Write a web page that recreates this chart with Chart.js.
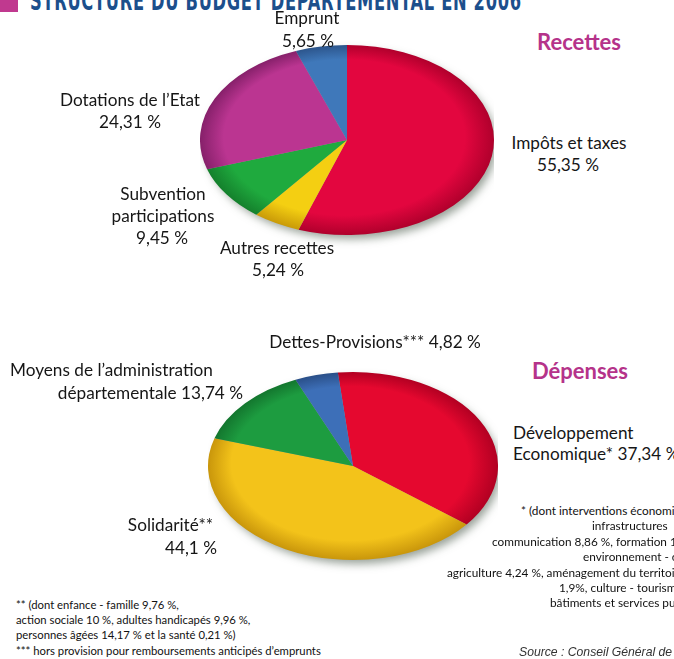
<!DOCTYPE html>
<html>
<head>
<meta charset="utf-8">
<script src="https://cdn.jsdelivr.net/npm/chart.js@4.4.1/dist/chart.umd.min.js"></script>
<style>
  body { margin: 0; width: 674px; height: 659px; overflow: hidden; background: #fff; position: relative;
         font-family: Lato, 'Open Sans', sans-serif; color: #161616; }
  .t { position: absolute; white-space: nowrap; font-size: 17.2px; line-height: 20px; }
  .head { position: absolute; white-space: nowrap; font-size: 22px; line-height: 26px; font-weight: bold; color: #b5338a; }
  .note { position: absolute; white-space: nowrap; font-size: 11.3px; line-height: 14px; color: #111; }
  .note.r { font-size: 11.8px; }
  #title { position: absolute; left: 30px; top: -13px; white-space: nowrap; font-family: 'DejaVu Sans Condensed', 'DejaVu Sans', sans-serif;
           font-weight: bold; font-size: 27px; line-height: 28px; color: #1c4f8c; letter-spacing: 1px; transform-origin: 0 0; }
  #square { position: absolute; left: 0; top: -6px; width: 18px; height: 18px; background: #c0398f; }
  #source { position: absolute; left: 519px; top: 644px; font-family: 'Liberation Sans', Arial, sans-serif; font-style: italic;
            font-size: 12.2px; line-height: 16px; color: #333; white-space: nowrap; }
  canvas { position: absolute; }
</style>
</head>
<body>
<div id="square"></div>
<div id="title">STRUCTURE DU BUDGET DÉPARTEMENTAL EN 2006</div>

<canvas id="recettes" width="294" height="294" style="left:200px; top:-7px;"></canvas>
<canvas id="depenses" width="290" height="290" style="left:208px; top:321px;"></canvas>

<div class="head" style="left:579px; top:29px; transform:translateX(-50%);">Recettes</div>
<div class="head" style="left:580px; top:358px; transform:translateX(-50%);">Dépenses</div>

<div id="labels"></div>
<div id="notes"></div>
<div id="source">Source : Conseil Général de la Mayenne</div>

<script>
// données
const recettesLabels = ['Impôts et taxes', 'Autres recettes', 'Subvention\nparticipations', 'Dotations de l’Etat', 'Emprunt'];
const recettesValues = [55.35, 5.24, 9.45, 24.31, 5.65];

const depensesLabels = ['Développement\nEconomique*', 'Solidarité**', 'Moyens de l’administration\ndépartementale ', 'Dettes-Provisions***'];
const depensesValues = [37.34, 44.1, 13.74, 4.82];

const notesDroite = [
  '* (dont interventions économiques',
  'infrastructures',
  'communication 8,86 %, formation 1',
  'environnement - c',
  'agriculture 4,24 %, aménagement du territoire',
  '1,9%, culture - tourisme',
  'bâtiments et services publics'
];
const notesGauche = [
  '** (dont enfance - famille 9,76 %,',
  'action sociale 10 %, adultes handicapés 9,96 %,',
  'personnes âgées 14,17 % et la santé 0,21 %)',
  '*** hors provision pour remboursements anticipés d’emprunts'
];

// couleurs [base, bord sombre]
const recettesColors = [['#e3063f', '#b0002c'], ['#f4cf12', '#c99a08'], ['#1faa3e', '#14802c'], ['#bb3591', '#86206a'], ['#3f78ba', '#2c558c']];
const depensesColors = [['#e5082f', '#b20022'], ['#f3c31a', '#c9960b'], ['#1d9c40', '#13762e'], ['#3d6fb8', '#2a4f88']];

// position des lignes de texte : [x, y (centre), alignement]
const recettesPos = [
  [[569, 143, 'c'], [568, 165, 'c']],
  [[277, 248, 'c'], [278, 270, 'c']],
  [[163, 194, 'c'], [163, 216, 'c'], [162, 238, 'c']],
  [[130, 100, 'c'], [130, 122, 'c']],
  [[307, 18, 'c'], [308, 41, 'c']]
];
const depensesPos = [
  [[513, 433, 'l'], [513, 454, 'l']],
  [[213, 525, 'r'], [217, 548, 'r']],
  [[10, 370, 'l'], [243, 393, 'r']],
  [[375, 342, 'c']]
];

function pct(v) {
  return String(v).replace('.', ',') + ' %';
}

function putText(parent, cls, text, x, y, align) {
  const d = document.createElement('div');
  d.className = cls;
  d.textContent = text;
  d.style.left = x + 'px';
  d.style.top = (y - 10) + 'px';
  if (align === 'c') d.style.transform = 'translateX(-50%)';
  if (align === 'r') d.style.transform = 'translateX(-100%)';
  parent.appendChild(d);
}

function addLabels(labels, values, positions) {
  const box = document.getElementById('labels');
  labels.forEach((lab, i) => {
    const lines = lab.split('\n');
    const pos = positions[i];
    if (pos.length > lines.length) {
      lines.push(pct(values[i]));
    } else {
      lines[lines.length - 1] += ' ' + pct(values[i]);
    }
    lines.forEach((l, j) => putText(box, 't', l, pos[j][0], pos[j][1], pos[j][2]));
  });
}

addLabels(recettesLabels, recettesValues, recettesPos);
addLabels(depensesLabels, depensesValues, depensesPos);

const notes = document.getElementById('notes');
const xDroite = [521, 592, 492, 583, 447, 559, 550];
notesDroite.forEach((l, i) => {
  const d = document.createElement('div');
  d.className = 'note r';
  d.textContent = l;
  d.style.left = xDroite[i] + 'px';
  d.style.top = (504 + i * 15.4) + 'px';
  notes.appendChild(d);
});
notesGauche.forEach((l, i) => {
  const d = document.createElement('div');
  d.className = 'note';
  d.textContent = l;
  d.style.left = '16px';
  d.style.top = (598 + i * 15.2) + 'px';
  notes.appendChild(d);
});

// titre coupé en haut : on l'étire à la largeur voulue
const title = document.getElementById('title');
title.style.transform = 'scaleX(' + (492 / title.offsetWidth) + ')';

// aplatit le camembert en ellipse + ombre portée
const ellipse = {
  id: 'ellipse',
  beforeDatasetsDraw(chart, args, opts) {
    const arc = chart.getDatasetMeta(0).data[0];
    const ctx = chart.ctx;
    const cx = arc.x, cy = arc.y, r = arc.outerRadius;
    ctx.save();
    ctx.translate(cx, cy);
    ctx.scale(1, opts.ratio);
    ctx.translate(-cx, -cy);
    ctx.save();
    ctx.shadowColor = 'rgba(70, 85, 70, 0.55)';
    ctx.shadowBlur = 9;
    ctx.shadowOffsetX = 4;
    ctx.shadowOffsetY = 5;
    ctx.fillStyle = '#999';
    ctx.beginPath();
    ctx.arc(cx, cy, r - 1.5, 0, Math.PI * 2);
    ctx.fill();
    ctx.restore();
  },
  afterDatasetsDraw(chart) {
    chart.ctx.restore();
  }
};

function shade(colors) {
  return function(c) {
    const chart = c.chart;
    const a = chart.chartArea;
    const col = colors[c.dataIndex];
    if (!a) return col[0];
    const cx = (a.left + a.right) / 2, cy = (a.top + a.bottom) / 2;
    const r = Math.min(a.right - a.left, a.bottom - a.top) / 2;
    const g = chart.ctx.createRadialGradient(cx - r * 0.1, cy - r * 0.15, 0, cx, cy, r);
    g.addColorStop(0, col[0]);
    g.addColorStop(0.82, col[0]);
    g.addColorStop(1, col[1]);
    return g;
  };
}

function createPie(canvas, labels, values, colors, rotation, ratio) {
  new Chart(canvas, {
    type: 'pie',
    data: {
      labels: labels,
      datasets: [{
        data: values,
        backgroundColor: shade(colors),
        borderWidth: 0,
        hoverOffset: 0,
        offset: 0
      }]
    },
    options: {
      responsive: false,
      animation: false,
      rotation: rotation,
      layout: { padding: 0 },
      plugins: {
        legend: { display: false },
        tooltip: { enabled: false },
        ellipse: { ratio: ratio }
      }
    },
    plugins: [ellipse]
  });
}

createPie(document.getElementById('recettes'), recettesLabels, recettesValues, recettesColors, 0, 95 / 147);
createPie(document.getElementById('depenses'), depensesLabels, depensesValues, depensesColors, -6, 94 / 145);
</script>
</body>
</html>
